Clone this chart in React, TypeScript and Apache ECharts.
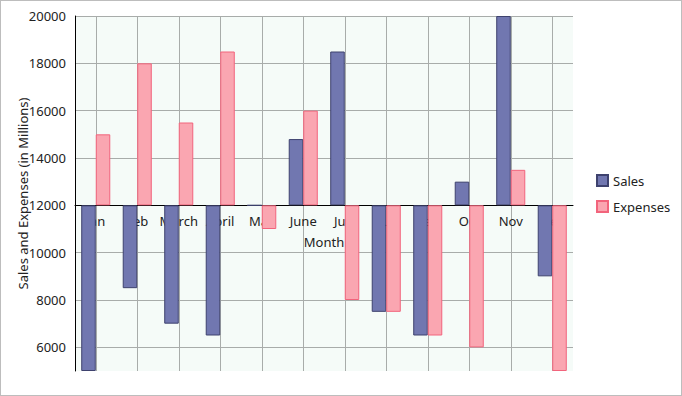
import React, { useEffect, useRef } from "react";
import * as echarts from "echarts";

const months = ["Jan", "Feb", "March", "April", "May", "June", "July", "Aug", "Sep", "Oct", "Nov", "Dec"];
const sales = [5000, 8500, 7000, 6500, 12000, 14800, 18500, 7500, 6500, 13000, 20000, 9000];
const expenses = [15000, 18000, 15500, 18500, 11000, 16000, 8000, 7500, 6500, 6000, 13500, 5000];
const yTicks = [6000, 8000, 10000, 12000, 14000, 16000, 18000, 20000];
const baseline = 12000;
const yMin = 5000;
const yMax = 20000;

const FONT = "'Noto Sans', sans-serif";
const CH_H = 394;
const G_TOP = 15;
const G_BOTTOM = 24;

export default function App() {
  const ref = useRef<HTMLDivElement>(null);
  useEffect(() => {
    if (!ref.current) return;
    const chart = echarts.init(ref.current, undefined, { renderer: "svg" });
    const shifted = yTicks.map((v) => v - baseline);
    const plotH = CH_H - G_TOP - G_BOTTOM;
    const xOffset = -((baseline - yMin) / (yMax - yMin)) * plotH;
    chart.setOption({
      animation: false,
      textStyle: { fontFamily: FONT },
      grid: {
        left: 74,
        right: 108,
        top: G_TOP,
        bottom: G_BOTTOM,
        outerBoundsMode: "none",
        containLabel: false,
        show: true,
        backgroundColor: "#f5fbf8",
        borderWidth: 0,
      },
      legend: {
        orient: "vertical",
        left: 590,
        top: 168,
        itemWidth: 11,
        itemHeight: 11,
        itemGap: 13,
        icon: "rect",
        textStyle: { fontFamily: FONT, fontSize: 13, color: "#222" },
        data: ["Sales", "Expenses"],
      },
      xAxis: {
        type: "category",
        data: months,
        z: 0,
        position: "bottom",
        offset: xOffset,
        name: "Month",
        nameLocation: "middle",
        nameGap: 30,
        nameMoveOverlap: false,
        nameTextStyle: { fontFamily: FONT, fontSize: 13, color: "#222" },
        axisLine: { onZero: false, lineStyle: { color: "#000", width: 1 } },
        axisTick: { show: false },
        axisLabel: { fontFamily: FONT, fontSize: 13, color: "#222", margin: 9, interval: 0 },
        splitLine: { show: true, alignWithLabel: true, lineStyle: { color: "#a8acaa", width: 1 } },
      },
      yAxis: {
        type: "value",
        min: yMin - baseline,
        max: yMax - baseline,
        name: "Sales and Expenses (in Millions)",
        nameLocation: "middle",
        nameGap: 46,
        nameMoveOverlap: false,
        nameTextStyle: { fontFamily: FONT, fontSize: 13, color: "#222" },
        axisLine: { show: true, onZero: false, lineStyle: { color: "#000", width: 1 } },
        axisTick: { show: false, customValues: shifted },
        axisLabel: {
          fontFamily: FONT,
          fontSize: 13,
          color: "#222",
          margin: 9,
          customValues: shifted,
          formatter: (v: number) => String(v + baseline),
        },
        splitLine: { show: true, lineStyle: { color: "#a8acaa", width: 1 } },
      },
      series: [
        {
          name: "Sales",
          type: "bar",
          data: sales.map((v) => v - baseline),
          barGap: "0%",
          barCategoryGap: "30%",
          itemStyle: { color: "#7177b0", borderColor: "#3e426e", borderWidth: 1 },
        },
        {
          name: "Expenses",
          type: "bar",
          data: expenses.map((v) => v - baseline),
          barGap: "0%",
          barCategoryGap: "30%",
          itemStyle: { color: "#faa6b1", borderColor: "#f2647c", borderWidth: 1 },
        },
      ],
    });
    return () => chart.dispose();
  }, []);
  return (
    <div
      style={{
        position: "fixed",
        left: 0,
        top: 0,
        width: 682,
        height: 396,
        boxSizing: "border-box",
        border: "1px solid #bdbdbd",
        background: "#fff",
      }}
    >
      <div ref={ref} style={{ width: 680, height: 394 }} />
    </div>
  );
}
